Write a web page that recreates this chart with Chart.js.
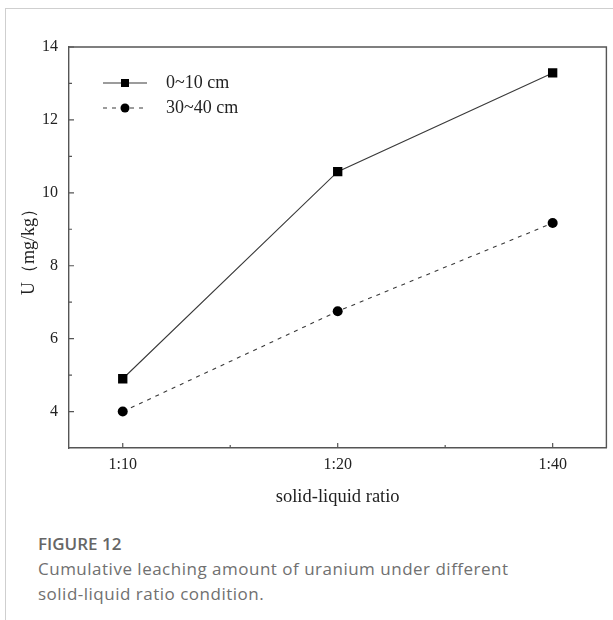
<!DOCTYPE html>
<html>
<head>
<meta charset="utf-8">
<script src="https://cdn.jsdelivr.net/npm/chart.js@4/dist/chart.umd.min.js"></script>
<style>
    html, body {
        margin: 0;
        padding: 0;
        background: #fff;
        width: 613px;
        height: 620px;
        overflow: hidden;
    }
    #card {
        position: absolute;
        left: 5px;
        top: 8px;
        width: 608px;
        height: 612px;
        border-top: 1px solid #cfcfcf;
        border-left: 1px solid #cfcfcf;
    }
    #chartBox {
        position: absolute;
        left: 0;
        top: 0;
        width: 613px;
        height: 520px;
    }
    #caption {
        position: absolute;
        left: 38px;
        top: 531px;
        width: 560px;
        font-family: "Open Sans", sans-serif;
        font-size: 17px;
        letter-spacing: 0.5px;
        line-height: 25px;
        color: #707070;
    }
    #caption b {
        font-weight: 600;
        letter-spacing: 0;
        color: #666;
    }
</style>
</head>
<body>
<div id="card"></div>
<div id="chartBox"><canvas id="leachChart" width="613" height="520"></canvas></div>
<div id="caption">
    <b>FIGURE 12</b><br>
    Cumulative leaching amount of uranium under different<br>
    solid-liquid ratio condition.
</div>

<script>
// Data
const ratioLabels = ['1:10', '1:20', '1:40'];
const topSoil = [4.9, 10.58, 13.29];      // 0~10 cm
const deepSoil = [4.0, 6.75, 9.17];       // 30~40 cm
const seriesNames = ['0~10 cm', '30~40 cm'];
const xTickValues = [0, 0.5, 1, 1.5, 2];
const yTickValues = [4, 5, 6, 7, 8, 9, 10, 11, 12, 13, 14];

const serif = '"Liberation Serif", "Times New Roman", serif';
const inkColor = '#3a3a3a';

function toPoints(values) {
    return values.map((v, i) => ({ x: i, y: v }));
}

// Draw inward ticks (major + minor) and the closing frame
const frameTicks = {
    id: 'frameTicks',
    afterDraw(chart) {
        const ctx = chart.ctx;
        const area = chart.chartArea;
        const xs = chart.scales.x;
        const ys = chart.scales.y;
        ctx.save();
        ctx.strokeStyle = '#555';
        ctx.lineWidth = 1.4;
        // top and right edges of the frame
        ctx.beginPath();
        ctx.moveTo(area.left, area.top);
        ctx.lineTo(area.right, area.top);
        ctx.lineTo(area.right, area.bottom);
        ctx.stroke();

        ctx.lineWidth = 1.2;
        ctx.beginPath();
        xs.ticks.forEach(t => {
            const px = xs.getPixelForValue(t.value);
            const len = Number.isInteger(t.value) ? 5 : 3;
            ctx.moveTo(px, area.bottom);
            ctx.lineTo(px, area.bottom - len);
        });
        ys.ticks.forEach(t => {
            const py = ys.getPixelForValue(t.value);
            const len = t.value % 2 === 0 ? 5 : 3;
            ctx.moveTo(area.left, py);
            ctx.lineTo(area.left + len, py);
        });
        ctx.stroke();
        ctx.restore();
    }
};

// Legend drawn with line sample + marker, like the original figure
const lineLegend = {
    id: 'lineLegend',
    afterDatasetsDraw(chart) {
        const ctx = chart.ctx;
        const rows = [83, 108];
        ctx.save();
        chart.data.datasets.forEach((ds, i) => {
            const y = rows[i];
            ctx.strokeStyle = ds.borderColor;
            ctx.lineWidth = 1.2;
            ctx.setLineDash(ds.borderDash || []);
            ctx.beginPath();
            ctx.moveTo(103, y);
            ctx.lineTo(147, y);
            ctx.stroke();
            ctx.setLineDash([]);
            ctx.fillStyle = '#000';
            if (ds.pointStyle === 'rect') {
                ctx.fillRect(121, y - 4, 8, 8);
            } else {
                ctx.beginPath();
                ctx.arc(125, y, 4.5, 0, Math.PI * 2);
                ctx.fill();
            }
            ctx.fillStyle = '#222';
            ctx.font = '18px ' + serif;
            ctx.textBaseline = 'middle';
            ctx.textAlign = 'left';
            ctx.fillText(ds.label, 166, y);
        });
        ctx.restore();
    }
};

document.addEventListener('DOMContentLoaded', function() {
    const ctx = document.getElementById('leachChart').getContext('2d');
    new Chart(ctx, {
        type: 'line',
        data: {
            datasets: [{
                label: seriesNames[0],
                data: toPoints(topSoil),
                borderColor: inkColor,
                borderWidth: 1.1,
                pointStyle: 'rect',
                pointRadius: 6.6,
                pointBackgroundColor: '#000',
                pointBorderWidth: 0,
                tension: 0
            }, {
                label: seriesNames[1],
                data: toPoints(deepSoil),
                borderColor: inkColor,
                borderWidth: 1.1,
                borderDash: [4, 5],
                pointStyle: 'circle',
                pointRadius: 5,
                pointBackgroundColor: '#000',
                pointBorderWidth: 0,
                tension: 0
            }]
        },
        options: {
            responsive: false,
            animation: false,
            layout: {
                padding: { top: 47, right: 6, left: 0, bottom: 0 }
            },
            scales: {
                x: {
                    type: 'linear',
                    min: -0.25,
                    max: 2.25,
                    afterBuildTicks: s => { s.ticks = xTickValues.map(v => ({ value: v })); },
                    afterFit: s => { s.height = 72; },
                    grid: { display: false, drawTicks: false },
                    border: { display: true, color: '#555', width: 1.4 },
                    ticks: {
                        padding: 7,
                        color: '#222',
                        font: { family: serif, size: 16 },
                        callback: v => Number.isInteger(v) ? ratioLabels[v] : ''
                    },
                    title: {
                        display: true,
                        text: 'solid-liquid ratio',
                        color: '#222',
                        font: { family: serif, size: 18.5 },
                        padding: { top: 0, bottom: 12 }
                    }
                },
                y: {
                    min: 3,
                    max: 14,
                    afterBuildTicks: s => { s.ticks = yTickValues.map(v => ({ value: v })); },
                    afterFit: s => { s.width = 69; },
                    grid: { display: false, drawTicks: false },
                    border: { display: true, color: '#555', width: 1.4 },
                    ticks: {
                        padding: 11,
                        color: '#222',
                        font: { family: serif, size: 16 },
                        callback: v => v % 2 === 0 ? String(v) : ''
                    },
                    title: {
                        display: true,
                        text: 'U（mg/kg）',
                        color: '#222',
                        font: { family: serif, size: 18 },
                        padding: { top: 18, bottom: 0 }
                    }
                }
            },
            plugins: {
                legend: { display: false },
                tooltip: { enabled: false }
            }
        },
        plugins: [frameTicks, lineLegend]
    });
});
</script>
</body>
</html>
